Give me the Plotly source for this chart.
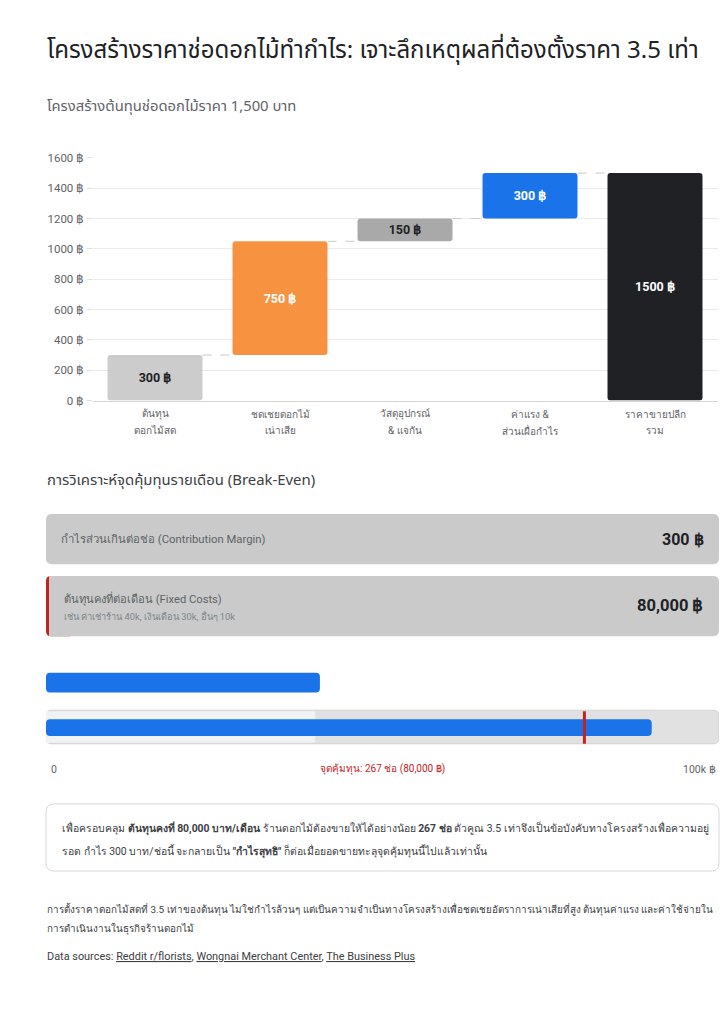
import plotly.graph_objects as go

W, H = 726, 1024

# ---------------- data ----------------
categories = ["ต้นทุน<br>ดอกไม้สด", "ชดเชยดอกไม้<br>เน่าเสีย", "วัสดุอุปกรณ์<br>& แจกัน",
              "ค่าแรง &<br>ส่วนเผื่อกำไร", "ราคาขายปลีก<br>รวม"]
step_values = [300, 750, 150, 300]
bar_colors = ["#cccccc", "#f79340", "#a9a9a9", "#1a73e8", "#202124"]
label_colors = ["#202124", "#ffffff", "#202124", "#ffffff", "#ffffff"]
y_ticks = [0, 200, 400, 600, 800, 1000, 1200, 1400, 1600]

contribution_margin = 300
fixed_costs = 80000
break_even_units = 267
progress_max = 100000
progress_top_bar = 40700
progress_zone = 40000
progress_fill = 90000

FONT = "Roboto, sans-serif"
HEAD = "'Noto Sans Thai', Roboto, sans-serif"


def px(x):
    return x / W


def py(y):
    return 1 - y / H


def rpath(x0, y0, x1, y1, rl, rr):
    """rounded rect path in paper coords from pixel coords; rl = left radius, rr = right radius"""
    pts = []
    pts.append(f"M {px(x0 + rl)},{py(y0)}")
    pts.append(f"L {px(x1 - rr)},{py(y0)}")
    pts.append(f"Q {px(x1)},{py(y0)} {px(x1)},{py(y0 + rr)}")
    pts.append(f"L {px(x1)},{py(y1 - rr)}")
    pts.append(f"Q {px(x1)},{py(y1)} {px(x1 - rr)},{py(y1)}")
    pts.append(f"L {px(x0 + rl)},{py(y1)}")
    pts.append(f"Q {px(x0)},{py(y1)} {px(x0)},{py(y1 - rl)}")
    pts.append(f"L {px(x0)},{py(y0 + rl)}")
    pts.append(f"Q {px(x0)},{py(y0)} {px(x0 + rl)},{py(y0)}")
    pts.append("Z")
    return " ".join(pts)


# waterfall geometry derived from the data
total = sum(step_values)
values = step_values + [total]
bases = []
run = 0
for v in step_values:
    bases.append(run)
    run += v
bases.append(0)
tops = [b + v for b, v in zip(bases, values)]

fig = go.Figure()

fig.add_trace(go.Bar(
    x=categories, y=values, base=bases,
    marker=dict(color=bar_colors, cornerradius=3, line=dict(width=0)),
    width=0.76,
    text=[f"{v} ฿" for v in values],
    textposition="inside", insidetextanchor="middle",
    textfont=dict(family=FONT, size=12.5, color=label_colors, weight="bold"),
    textangle=0,
    hoverinfo="skip",
    xaxis="x", yaxis="y",
))

# ---------------- progress section ----------------
fig.add_trace(go.Bar(
    y=[730], x=[progress_max], base=0, orientation="h", width=[34],
    marker=dict(color="#e1e1e1", line=dict(color="#d2d2d2", width=1), cornerradius=5),
    xaxis="x2", yaxis="y2", hoverinfo="skip",
))
fig.add_trace(go.Bar(
    y=[730], x=[progress_zone], base=0, orientation="h", width=[32],
    marker=dict(color="#f1f2f3", line=dict(width=0)),
    xaxis="x2", yaxis="y2", hoverinfo="skip",
))
fig.add_trace(go.Bar(
    y=[730.5], x=[progress_fill], base=0, orientation="h", width=[17],
    marker=dict(color="#1a73e8", line=dict(width=0), cornerradius=4),
    xaxis="x2", yaxis="y2", hoverinfo="skip",
))
fig.add_trace(go.Bar(
    y=[685], x=[progress_top_bar], base=0, orientation="h", width=[20],
    marker=dict(color="#1a73e8", line=dict(width=0), cornerradius=4),
    xaxis="x2", yaxis="y2", hoverinfo="skip",
))

shapes = []
# connectors
for i in range(len(values) - 1):
    shapes.append(dict(type="line", xref="x", yref="y",
                       x0=i + 0.38, x1=i + 1 - 0.38, y0=tops[i], y1=tops[i],
                       line=dict(color="#c8c8c8", width=1, dash="dash")))
# break-even marker
shapes.append(dict(type="line", xref="x2", yref="y2",
                   x0=fixed_costs, x1=fixed_costs, y0=714, y1=747,
                   line=dict(color="#c5221f", width=3)))

# cards
shapes.append(dict(type="path", xref="paper", yref="paper", layer="below",
                   path=rpath(46, 514, 719, 565, 6, 6),
                   fillcolor="#c9cac9", line=dict(width=0)))
shapes.append(dict(type="path", xref="paper", yref="paper", layer="below",
                   path=rpath(46, 577, 70, 638, 5, 0),
                   fillcolor="#c5221f", line=dict(width=0)))
shapes.append(dict(type="path", xref="paper", yref="paper", layer="below",
                   path=rpath(49, 577, 719, 638, 0, 6),
                   fillcolor="#c9cac9", line=dict(width=0)))
# summary box
shapes.append(dict(type="path", xref="paper", yref="paper", layer="below",
                   path=rpath(46, 808, 719, 876, 8, 8),
                   fillcolor="#ffffff", line=dict(color="#d6d8db", width=1)))

ann = []


def text(x, y, s, size, color="#3c4043", xanchor="left", bold=False, family=FONT):
    ann.append(dict(x=px(x), y=py(y), xref="paper", yref="paper", text=s, showarrow=False,
                    xanchor=xanchor, yanchor="middle", align=xanchor,
                    font=dict(family=family, size=size, color=color, weight="bold" if bold else "normal")))


# category labels (two lines each, placed under each category)
for i, c in enumerate(categories):
    for j, line in enumerate(c.split("<br>")):
        ann.append(dict(x=i, y=py(413 + 16 * j), xref="x", yref="paper", text=line, showarrow=False,
                        xanchor="center", yanchor="middle",
                        font=dict(family=FONT, size=10, color="#5f6368")))

text(45, 45, "โครงสร้างราคาช่อดอกไม้ทำกำไร: เจาะลึกเหตุผลที่ต้องตั้งราคา 3.5 เท่า", 24, "#202124", family=HEAD)
text(45, 101, "โครงสร้างต้นทุนช่อดอกไม้ราคา 1,500 บาท", 14.8, "#5f6368", family=HEAD)
text(45, 480, "การวิเคราะห์จุดคุ้มทุนรายเดือน (Break-Even)", 14.9, "#3c4043", family=HEAD)

text(59, 540, "กำไรส่วนเกินต่อช่อ (Contribution Margin)", 11.3, "#5f6368")
text(706, 540, f"{contribution_margin} ฿", 16, "#202124", xanchor="right", bold=True)
text(62, 600, "ต้นทุนคงที่ต่อเดือน (Fixed Costs)", 11.2, "#5f6368")
text(62, 617, "เช่น ค่าเช่าร้าน 40k, เงินเดือน 30k, อื่นๆ 10k", 9.3, "#80868b")
text(706, 607, f"{fixed_costs:,} ฿", 16.5, "#202124", xanchor="right", bold=True)

text(49, 773, "0", 10.5, "#5f6368")
text(382.5, 773, f"จุดคุ้มทุน: {break_even_units} ช่อ ({fixed_costs:,} ฿)", 10, "#c5221f", xanchor="center")
text(718, 773, f"{progress_max // 1000}k ฿", 10.5, "#5f6368", xanchor="right")

summary_1 = (f"เพื่อครอบคลุม <b>ต้นทุนคงที่ {fixed_costs:,} บาท/เดือน</b> ร้านดอกไม้ต้องขายให้ได้อย่างน้อย "
             f"<b>{break_even_units} ช่อ</b> ตัวคูณ 3.5 เท่าจึงเป็นข้อบังคับทางโครงสร้างเพื่อความอยู่")
summary_2 = (f"รอด กำไร {contribution_margin} บาท/ช่อนี้ จะกลายเป็น <b>\"กำไรสุทธิ\"</b> "
             f"ก็ต่อเมื่อยอดขายทะลุจุดคุ้มทุนนี้ไปแล้วเท่านั้น")
text(60, 833, summary_1, 10.4, "#3c4043")
text(60, 856, summary_2, 10.4, "#3c4043")

footer_1 = ("การตั้งราคาดอกไม้สดที่ 3.5 เท่าของต้นทุน ไม่ใช่กำไรล้วนๆ แต่เป็นความจำเป็นทางโครงสร้างเพื่อชดเชยอัตราการเน่าเสียที่สูง "
            "ต้นทุนค่าแรง และค่าใช้จ่ายใน")
footer_2 = "การดำเนินงานในธุรกิจร้านดอกไม้"
text(45, 915, footer_1, 9.9, "#3c4043")
text(45, 935, footer_2, 9.9, "#3c4043")
text(45, 963, "Data sources: <u>Reddit r/florists</u>, <u>Wongnai Merchant Center</u>, <u>The Business Plus</u>",
     10.9, "#3c4043")

fig.update_layout(
    width=W, height=H,
    margin=dict(l=0, r=0, t=0, b=0),
    paper_bgcolor="#ffffff", plot_bgcolor="rgba(0,0,0,0)",
    showlegend=False, barmode="overlay",
    font=dict(family=FONT, color="#5f6368"),
    xaxis=dict(domain=[px(92.5), px(717.5)], anchor="y", range=[-0.5, 4.5],
               showgrid=False, showline=True, linecolor="#d5d5d5", linewidth=1,
               ticks="", showticklabels=False, fixedrange=True),
    yaxis=dict(domain=[py(399), py(153)], anchor="x", range=[0, 1600],
               tickvals=y_ticks, ticktext=[f"{t} ฿" for t in y_ticks],
               showgrid=True, gridcolor="#ebebeb", gridwidth=1, zeroline=False,
               ticks="outside", ticklen=5, tickcolor="#e0e0e0",
               tickfont=dict(size=11.5, color="#5f6368"), fixedrange=True),
    xaxis2=dict(domain=[px(46), px(719)], anchor="y2", range=[0, progress_max], visible=False,
                fixedrange=True),
    yaxis2=dict(domain=[py(752), py(668)], anchor="x2", range=[752, 668], visible=False,
                fixedrange=True),
    shapes=shapes,
    annotations=ann,
)

fig.write_html(
    "out.html",
    config={"displayModeBar": False},
    post_script="document.body.style.margin='0';document.body.style.overflow='hidden';",
)
